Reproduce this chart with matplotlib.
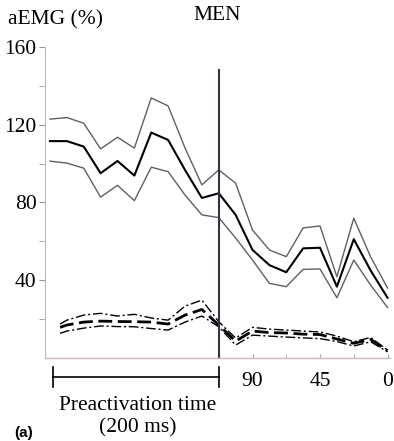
import matplotlib
matplotlib.use("Agg")
import matplotlib.pyplot as plt
import numpy as np

# ---- data (aEMG %, sampled every 11.25 ms, index 0..20; index 10 = MEN) ----
idx = list(range(21))
solid_upper = [122.8, 123.6, 120.7, 107.5, 113.5, 107.9, 133.7, 129.6, 108.0, 89.0, 96.7,
               89.9, 65.8, 55.6, 52.1, 66.9, 67.9, 41.8, 71.9, 52.0, 36.0]
solid_mean = [111.5, 111.5, 108.7, 95.0, 101.3, 93.8, 115.9, 112.1, 96.7, 82.3, 84.7,
              73.6, 55.6, 47.8, 44.1, 56.4, 56.7, 36.7, 61.1, 45.0, 31.0]
solid_lower = [101.2, 100.2, 97.6, 82.7, 88.8, 80.9, 98.1, 95.8, 83.8, 73.6, 72.2,
               61.7, 50.4, 38.4, 36.7, 45.6, 45.8, 31.0, 50.4, 37.5, 26.0]

idx_d = [0.6] + list(range(1, 21))
dash_upper = [17.5, 19.5, 22.1, 23.0, 21.6, 22.5, 20.6, 19.5, 26.7, 29.8, 18.7,
              10.3, 15.8, 14.9, 14.4, 13.9, 13.4, 11.3, 8.4, 10.6, 4.1]
dash_mean = [15.8, 17.0, 18.5, 19.0, 18.8, 18.7, 18.5, 17.5, 22.1, 25.0, 17.0,
             8.7, 13.9, 13.1, 12.9, 12.3, 12.1, 9.8, 7.6, 9.6, 3.8]
dash_lower = [12.7, 13.9, 15.4, 16.5, 16.2, 16.1, 15.2, 14.4, 18.5, 21.6, 16.1,
              6.7, 11.8, 11.3, 10.8, 10.4, 10.0, 8.5, 6.2, 8.4, 3.2]

ms_labels = [90, 45, 0]
ytick_labels = [40, 80, 120, 160]
men_index = 10
step_ms = 11.25

def ms_to_idx(ms):
    return 20 - ms / step_ms

plt.rcParams['font.family'] = ['Liberation Serif', 'DejaVu Serif']
FS = 15.5

fig = plt.figure(figsize=(3.94, 4.41), dpi=100)
ax = fig.add_axes([0.114, 0.188, 0.876, 0.706])

gray = '#606060'
ax.plot(idx, solid_upper, color=gray, lw=1.0)
ax.plot(idx, solid_mean, color='black', lw=1.5)
ax.plot(idx, solid_lower, color=gray, lw=1.0)

ax.plot(idx_d, dash_upper, color='black', lw=1.0, linestyle=(0, (7, 2, 1.5, 2)))
ax.plot(idx_d, dash_mean, color='black', lw=2.0, linestyle=(0, (5, 2)))
ax.plot(idx_d, dash_lower, color='black', lw=1.0, linestyle=(0, (7, 2, 1.5, 2)))

ax.plot([men_index, men_index], [0, 148], color='#333344', lw=1.5)

ax.set_xlim(-0.3, 20.15)
ax.set_ylim(0, 160)

for s in ['top', 'right']:
    ax.spines[s].set_visible(False)
ax.spines['left'].set_color('#bbbbbb')
ax.spines['bottom'].set_color('#c8b8b8')
ax.spines['left'].set_linewidth(0.8)
ax.spines['bottom'].set_linewidth(1.0)

ax.set_yticks(ytick_labels)
ax.set_yticklabels([str(v) for v in ytick_labels], fontsize=FS)
ax.set_yticks([20, 60, 100, 140], minor=True)
ax.tick_params(axis='y', which='both', length=4, color='#999999', pad=2)

ax.set_xticks([ms_to_idx(m) for m in ms_labels])
ax.set_xticklabels([str(m) for m in ms_labels], fontsize=FS)
ax.set_xticks([10, 14, 18], minor=True)
ax.tick_params(axis='x', which='both', direction='in', length=3, color='#aaaaaa', pad=10)

# preactivation bar
tr = ax.get_xaxis_transform()
ybar = -0.06
ax.plot([0.2, men_index], [ybar, ybar], color='black', lw=1.2, transform=tr, clip_on=False)
for xc in [0.2, men_index]:
    ax.plot([xc, xc], [ybar - 0.032, ybar + 0.032], color='black', lw=1.2,
            transform=tr, clip_on=False)

fig.text(138 / 394, 1 - 405 / 441, 'Preactivation time', ha='center', va='center', fontsize=FS)
fig.text(138 / 394, 1 - 428 / 441, '(200 ms)', ha='center', va='center', fontsize=FS)
fig.text(8 / 394, 1 - 20 / 441, 'aEMG (%)', ha='left', va='center', fontsize=FS)
fig.text(217 / 394, 1 - 16 / 441, 'MEN', ha='center', va='center', fontsize=FS)
fig.text(14 / 394, 1 - 433 / 441, '(a)', ha='left', va='center', fontsize=11,
         fontweight='bold', family=['Liberation Sans', 'DejaVu Sans'])

fig.savefig('out.png', dpi=100)
